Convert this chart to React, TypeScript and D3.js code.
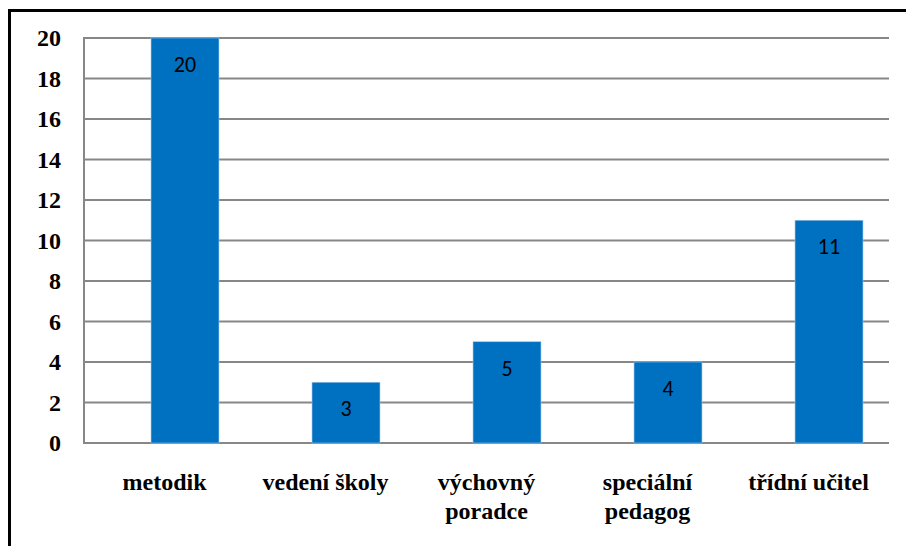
import React from "react";
import * as d3 from "d3";

const categories: string[][] = [
  ["metodik"],
  ["vedení školy"],
  ["výchovný", "poradce"],
  ["speciální", "pedagog"],
  ["třídní učitel"],
];
const values: number[] = [20, 3, 5, 4, 11];
const yTicks: number[] = [0, 2, 4, 6, 8, 10, 12, 14, 16, 18, 20];

const SERIF = "Liberation Serif";
const SANS = "Carlito";

export default function App() {
  const W = 906, H = 546;
  const left = 84, right = 889, top = 38, bottom = 443;
  const keys = categories.map((c) => c.join(" "));
  const y = d3.scaleLinear().domain([0, 20]).range([bottom, top]);
  const xLab = d3.scaleBand().domain(keys).range([left, right]);
  const xBar = d3.scaleBand().domain(keys).range([left + 20.5, right + 20.5]).paddingInner(0.578).paddingOuter(0.289);
  return (
    <svg width={W} height={H} style={{ position: "absolute", left: 0, top: 0 }}>
      <rect x={0} y={0} width={W} height={H} fill="#fff" />
      <rect x={9.5} y={10.5} width={W + 20} height={H + 20} fill="none" stroke="#000" strokeWidth={3} />
      {yTicks.map((t) => (
        <line key={t} x1={left} x2={right} y1={y(t)} y2={y(t)} stroke="#878787" strokeWidth={2} />
      ))}
      <line x1={left} x2={left} y1={top - 1} y2={bottom + 1} stroke="#878787" strokeWidth={2} />
      {values.map((v, i) => (
        <rect key={i} x={xBar(keys[i])!} y={y(v)} width={xBar.bandwidth()} height={bottom - y(v)} fill="#0070C0" stroke="#9DC3E6" strokeWidth={0.6} />
      ))}
      {values.map((v, i) => (
        <text key={"v" + i} x={xBar(keys[i])! + xBar.bandwidth() / 2} y={y(v) + 34} textAnchor="middle" fontFamily={SANS} fontSize={22} fill="#000">{v}</text>
      ))}
      {yTicks.map((t) => (
        <text key={"t" + t} x={61} y={y(t) + 8} textAnchor="end" fontFamily={SERIF} fontWeight="bold" fontSize={24} fill="#000">{t}</text>
      ))}
      {categories.map((lines, i) => (
        <text key={"c" + i} x={xLab(keys[i])! + xLab.bandwidth() / 2} y={490} textAnchor="middle" fontFamily={SERIF} fontWeight="bold" fontSize={24} fill="#000">
          {lines.map((l, j) => (
            <tspan key={j} x={xLab(keys[i])! + xLab.bandwidth() / 2} dy={j === 0 ? 0 : 29}>{l}</tspan>
          ))}
        </text>
      ))}
    </svg>
  );
}
